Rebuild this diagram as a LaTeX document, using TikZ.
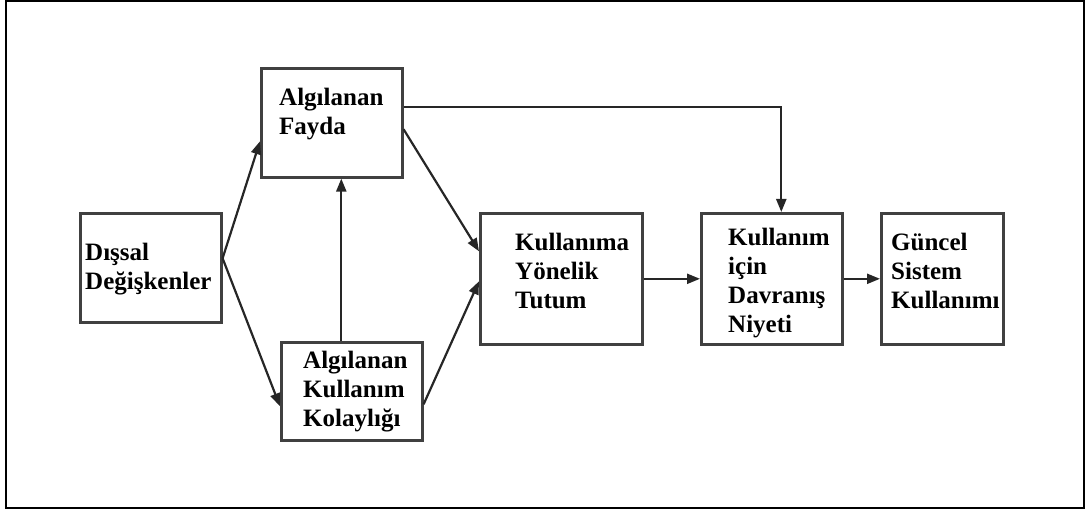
\documentclass[tikz,border=0pt]{standalone}
\usepackage{fontspec}
\setmainfont{Liberation Serif}
\usetikzlibrary{arrows.meta,calc}
\begin{document}
\begin{tikzpicture}[x=1pt,y=-1pt,
  box/.style={draw=black!75,line width=2.6pt,rectangle,inner sep=0pt,anchor=north west},
  lbl/.style={anchor=north west,inner sep=0pt,align=left,
    font=\fontsize{25}{29}\selectfont\bfseries},
  conn/.style={line width=2.2pt,black!85,-{Triangle[length=13pt,width=10pt]}}]
\useasboundingbox (0,0) rectangle (1088,510);
\draw[line width=2.6pt] (6,1) rectangle (1084,508);

% model boxes
\node[box,minimum width=141pt,minimum height=109pt] (ext) at (79,212) {};
\node[box,minimum width=141pt,minimum height=109pt] (fayda) at (260,67) {};
\node[box,minimum width=141pt,minimum height=98pt] (kolay) at (280,341) {};
\node[box,minimum width=162pt,minimum height=131pt] (tutum) at (479,212) {};
\node[box,minimum width=141pt,minimum height=131pt] (niyet) at (700,212) {};
\node[box,minimum width=122pt,minimum height=131pt] (guncel) at (880,212) {};

% box texts
\node[lbl] (t-ext) at (85,243) {Dışsal\\Değişkenler};
\node[lbl] (t-fayda) at (279,88) {Algılanan\\Fayda};
\node[lbl] (t-kolay) at (303,351) {Algılanan\\Kullanım\\Kolaylığı};
\node[lbl] (t-tutum) at (515,233) {Kullanıma\\Yönelik\\Tutum};
\node[lbl] (t-niyet) at (728,228) {Kullanım\\için\\Davranış\\Niyeti};
\node[lbl] (t-guncel) at (891,233) {Güncel\\Sistem\\Kullanımı};

% connectors
\draw[conn] ([yshift=9.5pt]ext.east) -- ([yshift=-18.5pt]fayda.west);
\draw[conn] ([yshift=9.5pt]ext.east) -- ([yshift=-15pt]kolay.west);
\draw[conn] ([xshift=-10.5pt]kolay.north) -- ([xshift=-10.5pt]kolay.north |- fayda.south);
\draw[conn] ([yshift=-6.5pt]fayda.east) -- ([yshift=27.5pt]tutum.west);
\draw[conn] ([yshift=-13pt]kolay.east) -- ([yshift=-2.5pt]tutum.west);
\draw[conn] ([yshift=15.5pt]fayda.east) -| ([xshift=9.5pt]niyet.north);
\draw[conn] (tutum.east) -- (niyet.west);
\draw[conn] (niyet.east) -- (guncel.west);
\end{tikzpicture}
\end{document}
